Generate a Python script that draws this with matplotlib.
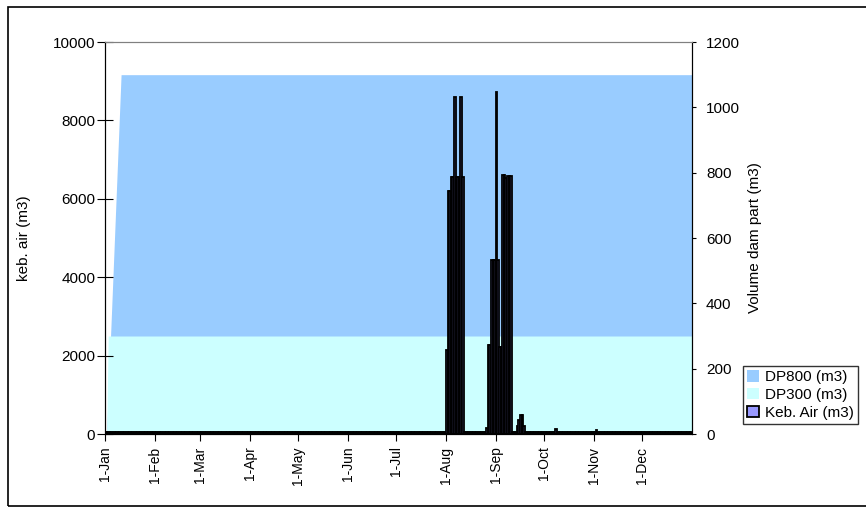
import numpy as np
import pandas as pd
import matplotlib
matplotlib.use("Agg")
import matplotlib.pyplot as plt
from matplotlib.patches import Rectangle

plt.rcParams['font.family'] = ['Liberation Sans', 'DejaVu Sans']

# data
n_days = 365
month_labels = ["1-Jan", "1-Feb", "1-Mar", "1-Apr", "1-May", "1-Jun",
                "1-Jul", "1-Aug", "1-Sep", "1-Oct", "1-Nov", "1-Dec"]
month_starts = list(pd.date_range("2001-01-01", periods=12, freq="MS").dayofyear - 1)

# dam parts (right axis)
dp800_days = [1, 10, 365]
dp800 = [0, 1100, 1100]
dp300_days = [1, 2, 365]
dp300 = [0, 300, 300]

# water need (left axis)
keb_base = 60
keb_days = [212, 213, 214, 215, 216, 217, 218, 219, 220, 221, 222,
            237, 238, 239, 240, 241, 242, 243, 244, 245, 246, 247, 248, 249, 250, 251, 252,
            256, 257, 258, 259, 260, 280, 305]
keb_vals = [2150, 6200, 6200, 6550, 6550, 8600, 6550, 6550, 6550, 8600, 6550,
            150, 2270, 2270, 4440, 4440, 4440, 8720, 4440, 2220, 2220, 6610, 6610, 6530, 6570, 6570, 6570,
            200, 350, 480, 480, 200, 120, 90]

keb_air = np.full(n_days, keb_base)
keb_air[keb_days] = keb_vals

W, H = 866, 513
fig = plt.figure(figsize=(W / 100, H / 100), dpi=100)
fig.patch.set_facecolor("white")

# outer chart frame
fig.patches.append(Rectangle((8 / W, 1 - 506 / H), 870 / W, (506 - 7) / H,
                             transform=fig.transFigure, fill=False,
                             edgecolor="black", linewidth=1.2))

left, right, top, bottom = 105, 692, 42, 434
ax = fig.add_axes([left / W, 1 - bottom / H, (right - left) / W, (bottom - top) / H])
ax.fill_between(dp800_days, dp800, color="#99CCFF", linewidth=0, label="DP800 (m3)")
ax.fill_between(dp300_days, dp300, color="#CCFFFF", linewidth=0, label="DP300 (m3)")
ax.set_ylim(0, 1200)

axb = ax.twinx()
axb.bar(np.arange(n_days) + 0.5, keb_air, width=1.0, color="#9999FF",
        edgecolor="black", linewidth=1.3, label="Keb. Air (m3)")
axb.set_ylim(0, 10000)
axb.set_yticks(range(0, 10001, 2000))
axb.yaxis.tick_left()
axb.yaxis.set_label_position("left")
axb.set_ylabel("keb. air (m3)", fontsize=11, labelpad=16)
axb.tick_params(axis="y", direction="inout", length=12, labelsize=11, pad=1)

ax.set_yticks(range(0, 1201, 200))
ax.yaxis.tick_right()
ax.yaxis.set_label_position("right")
ax.set_ylabel("Volume dam part (m3)", fontsize=11, labelpad=6)
ax.tick_params(axis="y", direction="out", length=3, labelsize=11, pad=7)

ax.set_xlim(0, n_days)
ax.set_xticks(month_starts)
ax.set_xticklabels(month_labels, rotation=90, fontsize=10)
ax.tick_params(axis="x", direction="out", length=5, pad=4)

for a in (ax, axb):
    a.spines["top"].set_color("#808080")
    a.spines["left"].set_color("black")
    a.spines["right"].set_color("black")
    a.spines["bottom"].set_color("black")

h1, l1 = ax.get_legend_handles_labels()
h2, l2 = axb.get_legend_handles_labels()
leg = fig.legend(h1 + h2, l1 + l2, loc="upper left", bbox_to_anchor=(743 / W, 1 - 366 / H),
                 fontsize=11, frameon=True, fancybox=False, borderpad=0.25,
                 handlelength=0.8, handleheight=0.8, handletextpad=0.4,
                 labelspacing=0.25, borderaxespad=0)
leg.get_frame().set_edgecolor("black")
leg.get_frame().set_linewidth(1.0)

fig.savefig("out.png", dpi=100)
